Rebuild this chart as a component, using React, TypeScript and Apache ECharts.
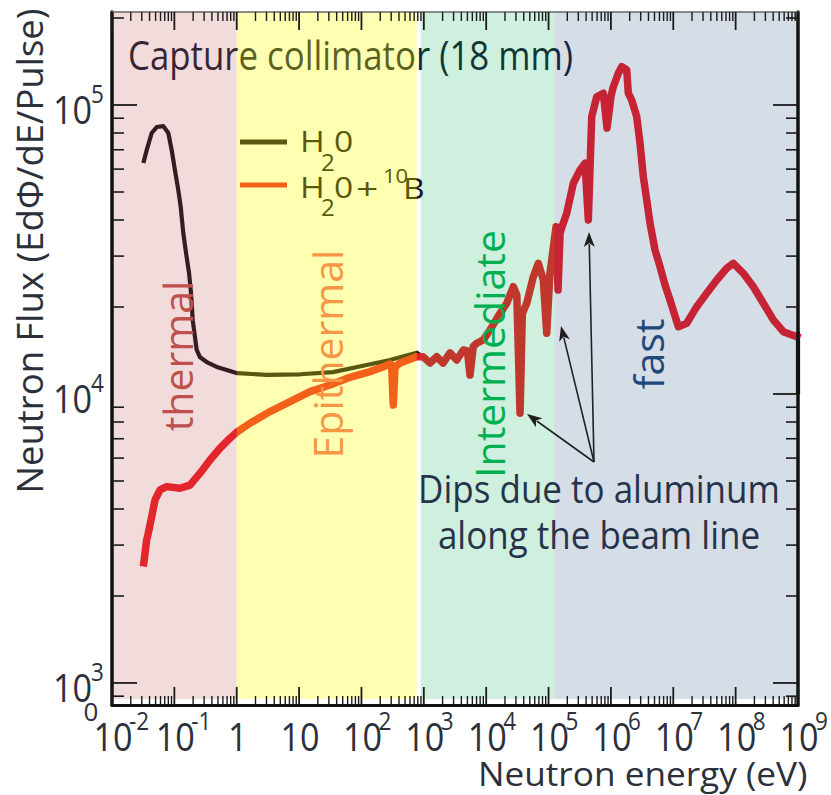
import React, { useEffect, useRef } from 'react';
import * as echarts from 'echarts';

// ---- axis ranges ----
const X_MIN = 0.01;
const X_MAX = 1e9;
const Y_MIN = 839;
const Y_MAX = 209800;
const BAND_FLOOR = 880;

// ---- energy regions ----
const regionNames = ['thermal', 'Epithermal', 'Intermediate', 'fast'];
const regionStart = [0.01, 1, 890, 1.25e5];
const regionEnd = [1, 770, 1.25e5, 1e9];
const regionShade = ['rgba(192,80,77,0.2)', 'rgba(255,255,0,0.3)', 'rgba(0,176,80,0.19)', 'rgba(31,73,125,0.19)'];
const regionTextColor = ['#C0504D', '#F79646', '#00B050', '#1F497D'];

// ---- series: H2O + 10B, low energy part ----
const boronLowEnergy = [0.0318, 0.036, 0.0382, 0.0433, 0.049, 0.0589, 0.0754, 0.123, 0.178, 0.258, 0.373, 0.539, 0.78, 1.02, 1.63, 3.42, 7.15, 15.0, 31.3, 65.5, 137, 224, 287, 305, 324, 345, 415, 769];
const boronLowFlux = [2530, 3130, 3300, 3760, 4300, 4660, 4780, 4720, 4840, 5320, 5910, 6490, 7030, 7400, 7920, 8690, 9410, 10190, 10740, 11420, 11950, 12430, 12700, 12600, 9160, 12400, 12800, 13460];

// ---- series: H2O, low energy part ----
const waterLowEnergy = [0.0318, 0.036, 0.0433, 0.0521, 0.0665, 0.08, 0.0906, 0.102, 0.1156, 0.1264, 0.139, 0.1537, 0.172, 0.185, 0.197, 0.228, 0.258, 0.33, 0.478, 0.69, 1.02, 3.03, 10.4, 35, 121, 287, 415, 769];
const waterLowFlux = [63000, 69800, 80000, 83900, 84500, 80000, 69800, 59600, 50800, 44400, 36100, 30800, 26200, 22300, 18000, 14200, 13400, 12900, 12400, 12100, 11800, 11650, 11700, 11900, 12600, 13100, 13400, 13900];

// ---- both series coincide above ~1 keV ----
const highEnergy = [971, 1258, 1610, 2032, 2630, 3370, 4298, 5000, 5508, 6200, 7053, 9000, 11530, 16670, 21350, 27240, 31000, 34890, 38000, 44680, 57020, 68570, 82480, 93500, 105000, 112400, 131800, 141900, 153000, 164500, 195600, 249700, 319800, 384600, 434500, 492400, 592300, 755400, 866700, 1.004e6, 1.093e6, 1.315e6, 1.491e6, 1.793e6, 1.901e6, 2.157e6, 2.594e6, 2.93e6, 3.309e6, 3.752e6, 4.238e6, 5.097e6, 6.132e6, 7.376e6, 8.87e6, 1.205e7, 1.644e7, 2.378e7, 3.44e7, 4.975e7, 7.2e7, 9.19e7, 1.329e8, 1.922e8, 2.781e8, 4.023e8, 5.82e8, 9.54e8, 1e9];
const highFlux = [13460, 12800, 13460, 12800, 13870, 13110, 14200, 14100, 11630, 14600, 14980, 15380, 16660, 19020, 20600, 23510, 22000, 8580, 19000, 20600, 25460, 28330, 24800, 16220, 26000, 29090, 37920, 22900, 36000, 37920, 42200, 53590, 59600, 62860, 40000, 91100, 106800, 109800, 83250, 107400, 115700, 128700, 135700, 132200, 109800, 104000, 91100, 73720, 56470, 46920, 38970, 31500, 27570, 23840, 21150, 17100, 17570, 20050, 22330, 24800, 27220, 28330, 26160, 23510, 20600, 18040, 16430, 15790, 16250];
const waterTailEnergy = [1e9];
const waterTailFlux = [10000];

// ---- ticks and tick labels ----
const xTickValues = [1e-2, 1e-1, 1, 10, 1e2, 1e3, 1e4, 1e5, 1e6, 1e7, 1e8, 1e9];
const xTickBases = ['10', '10', '1', '10', '10', '10', '10', '10', '10', '10', '10', '10'];
const xTickExps = ['-2', '-1', '', '', '2', '3', '4', '5', '6', '7', '8', '9'];
const yTickValues = [1e3, 1e4, 1e5];
const yTickBases = ['10', '10', '10'];
const yTickExps = ['3', '4', '5'];
const yMajorLeft = [1e3, 1e5];
const yMajorRight = [1e3, 1e4, 1e5];
const minorMultipliers = [2, 3, 4, 5, 6, 7, 8, 9];

const xMinorTicks: number[] = [];
for (let e = -2; e <= 8; e++) minorMultipliers.forEach((m) => xMinorTicks.push(m * Math.pow(10, e)));
const yMinorTicks: number[] = [];
for (let e = 2; e <= 5; e++) minorMultipliers.forEach((m) => {
  const v = m * Math.pow(10, e);
  if (v > Y_MIN && v < Y_MAX) yMinorTicks.push(v);
});

const FONT = '"Open Sans", "Noto Sans", sans-serif';
const LABEL_COLOR = '#2b303b';

function tickSeries(values: number[], axis: 'x' | 'y', len: number, sides: 'both' | 'left' | 'right', width: number) {
  return {
    type: 'custom',
    coordinateSystem: 'cartesian2d',
    silent: true,
    clip: false,
    z: 12,
    data: values.map((v) => (axis === 'x' ? [v, Y_MIN] : [X_MIN, v])),
    renderItem: (params: any, api: any) => {
      const cs = params.coordSys;
      const p = api.coord([api.value(0), api.value(1)]);
      const st = { stroke: '#1a1a1a', lineWidth: width };
      const ch: any[] = [];
      if (axis === 'x') {
        const bottom = cs.y + cs.height;
        const top = cs.y;
        ch.push({ type: 'line', shape: { x1: p[0], y1: bottom, x2: p[0], y2: bottom - len }, style: st });
        ch.push({ type: 'line', shape: { x1: p[0], y1: top, x2: p[0], y2: top + len }, style: st });
      } else {
        const left = cs.x;
        const right = cs.x + cs.width;
        if (sides !== 'right') ch.push({ type: 'line', shape: { x1: left, y1: p[1], x2: left + len, y2: p[1] }, style: st });
        if (sides !== 'left') ch.push({ type: 'line', shape: { x1: right, y1: p[1], x2: right - len, y2: p[1] }, style: st });
      }
      return { type: 'group', children: ch };
    },
  };
}

function txt(text: string, x: number, y: number, size: number, fill: string, align: string, extra: any = {}) {
  return {
    type: 'text',
    x,
    y,
    ...extra,
    style: { text, font: `${size}px ${FONT}`, fill, textAlign: align, textVerticalAlign: 'middle' },
  };
}

function arrow(x0: number, y0: number, x1: number, y1: number) {
  const dx = x1 - x0;
  const dy = y1 - y0;
  const L = Math.sqrt(dx * dx + dy * dy);
  const ux = dx / L;
  const uy = dy / L;
  const nx = -uy;
  const ny = ux;
  const hl = 15;
  const hw = 5.5;
  const bx = x1 - ux * hl;
  const by = y1 - uy * hl;
  return [
    { type: 'line', z: 20, shape: { x1: x0, y1: y0, x2: bx + ux * 3, y2: by + uy * 3 }, style: { stroke: '#222', lineWidth: 1.6 } },
    { type: 'polygon', z: 20, shape: { points: [[x1, y1], [bx + nx * hw, by + ny * hw], [bx + ux * 4, by + uy * 4], [bx - nx * hw, by - ny * hw]] }, style: { fill: '#1e1e1e' } },
  ];
}

export default function App() {
  const ref = useRef<HTMLDivElement>(null);
  useEffect(() => {
    if (!ref.current) return;
    const chart = echarts.init(ref.current, undefined, { renderer: 'svg' });

    const boronData = [...boronLowEnergy.map((e, i) => [e, boronLowFlux[i]]), ...highEnergy.map((e, i) => [e, highFlux[i]])];
    const waterData = [
      ...waterLowEnergy.map((e, i) => [e, waterLowFlux[i]]),
      ...highEnergy.map((e, i) => [e, highFlux[i]]),
      ...waterTailEnergy.map((e, i) => [e, waterTailFlux[i]]),
    ];

    const axisCommon = { type: 'log', logBase: 10, z: 10, axisTick: { show: false }, axisLabel: { show: false }, splitLine: { show: false } };

    const regionLabelX = [177, 327, 489, 648];
    const regionLabelY = [356, 354, 354, 354];
    const LEG = '#111';

    const graphicElements: any[] = [
      // title (under the colored bands)
      txt('Capture collimator (18 mm)', 128, 55, 40, '#141c30', 'left', { z: 1, scaleX: 0.87 }),
      // legend (under bands)
      { type: 'line', z: 1, shape: { x1: 240, y1: 142, x2: 287, y2: 142 }, style: { stroke: '#141018', lineWidth: 5 } },
      txt('H', 300, 140, 30, LEG, 'left', { z: 1, scaleX: 1.12 }),
      txt('2', 321, 162, 23, LEG, 'left', { z: 1, scaleX: 1.05 }),
      txt('0', 334, 140, 30, LEG, 'left', { z: 1, scaleX: 1.12 }),
      { type: 'line', z: 1, shape: { x1: 240, y1: 185, x2: 287, y2: 185 }, style: { stroke: '#ed1c24', lineWidth: 5 } },
      txt('H', 300, 186, 30, LEG, 'left', { z: 1, scaleX: 1.12 }),
      txt('2', 321, 207, 23, LEG, 'left', { z: 1, scaleX: 1.05 }),
      txt('0', 334, 186, 30, LEG, 'left', { z: 1, scaleX: 1.12 }),
      txt('+', 356, 187, 30, LEG, 'left', { z: 1, scaleX: 1.3 }),
      txt('10', 383, 175, 20, LEG, 'left', { z: 1, scaleX: 1.1 }),
      txt('B', 403, 187, 30, LEG, 'left', { z: 1, scaleX: 1.12 }),
      // region names (on top)
      ...regionNames.map((n, i) => txt(n, regionLabelX[i], regionLabelY[i], 41, regionTextColor[i], 'center', { z: 20, rotation: Math.PI / 2 })),
      // annotation
      txt('Dips due to aluminum', 599, 488, 35, '#25344a', 'center', { z: 20, scaleY: 1.08 }),
      txt('along the beam line', 599, 534, 35, '#25344a', 'center', { z: 20, scaleY: 1.08 }),
      ...arrow(594, 462, 527, 414),
      ...arrow(594, 462, 561, 326),
      ...arrow(594, 462, 589, 232),
      // axis titles
      txt('Neutron Flux (EdΦ/dE/Pulse)', 29, 251, 36.5, LABEL_COLOR, 'center', { z: 20, rotation: Math.PI / 2 }),
      txt('Neutron energy (eV)', 478, 774, 32, LABEL_COLOR, 'left', { z: 20, scaleX: 1.1 }),
      txt('0', 91, 711, 26, LABEL_COLOR, 'center', { z: 20 }),
    ];

    const option: any = {
      animation: false,
      grid: { left: 112, right: 33, top: 12, bottom: 90, containLabel: false },
      xAxis: [
        { ...axisCommon, min: X_MIN, max: X_MAX, position: 'bottom', axisLine: { show: true, onZero: false, lineStyle: { color: '#111', width: 3 } } },
        { ...axisCommon, min: X_MIN, max: X_MAX, position: 'top', axisLine: { show: true, onZero: false, lineStyle: { color: '#666', width: 1.5 } } },
      ],
      yAxis: [
        { ...axisCommon, min: Y_MIN, max: Y_MAX, position: 'left', axisLine: { show: true, onZero: false, lineStyle: { color: '#111', width: 3.5 } } },
        { ...axisCommon, min: Y_MIN, max: Y_MAX, position: 'right', axisLine: { show: true, onZero: false, lineStyle: { color: '#111', width: 3.5 } } },
      ],
      series: [
        {
          type: 'line', name: 'H2O', data: waterData, showSymbol: false, symbol: 'none', silent: true, z: 2,
          lineStyle: { color: '#141018', width: 4.2, join: 'round' },
        },
        {
          type: 'line', name: 'H2O+10B', data: boronData, showSymbol: false, symbol: 'none', silent: true, z: 2,
          lineStyle: { color: '#ed1c24', width: 7.5, join: 'round' },
        },
        {
          type: 'custom', coordinateSystem: 'cartesian2d', silent: true, clip: false, z: 5,
          encode: { x: [0, 1] },
          data: regionStart.map((s, i) => [s, regionEnd[i]]),
          renderItem: (params: any, api: any) => {
            const p0 = api.coord([api.value(0), Y_MAX]);
            const p1 = api.coord([api.value(1), BAND_FLOOR]);
            return {
              type: 'rect',
              shape: { x: p0[0], y: p0[1], width: p1[0] - p0[0], height: p1[1] - p0[1] },
              style: { fill: regionShade[params.dataIndex] },
            };
          },
        },
        tickSeries(xTickValues, 'x', 18, 'both', 1.8),
        tickSeries(xMinorTicks, 'x', 9, 'both', 1.4),
        tickSeries(yMajorLeft, 'y', 25, 'left', 1.8),
        tickSeries(yMajorRight, 'y', 25, 'right', 1.8),
        tickSeries(yMinorTicks, 'y', 12, 'both', 1.6),
        {
          type: 'custom', coordinateSystem: 'cartesian2d', silent: true, clip: false, z: 12,
          data: xTickValues.map((v) => [v, Y_MIN]),
          renderItem: (params: any, api: any) => {
            const i = params.dataIndex;
            const cs = params.coordSys;
            const px = api.coord([api.value(0), api.value(1)])[0];
            const y0 = cs.y + cs.height;
            const ch: any[] = [txt(xTickBases[i], px + 1, y0 + 31, 38, LABEL_COLOR, 'center', { scaleX: 0.9 })];
            if (xTickExps[i]) ch.push(txt(xTickExps[i], px + 17, y0 + 16, 25, LABEL_COLOR, 'left', { scaleX: 0.9 }));
            return { type: 'group', children: ch };
          },
        },
        {
          type: 'custom', coordinateSystem: 'cartesian2d', silent: true, clip: false, z: 12,
          data: yTickValues.map((v) => [X_MIN, v]),
          renderItem: (params: any, api: any) => {
            const i = params.dataIndex;
            const cs = params.coordSys;
            const py = api.coord([api.value(0), api.value(1)])[1];
            const x0 = cs.x;
            return {
              type: 'group',
              children: [
                txt(yTickBases[i], x0 - 20, py + 4, 38, LABEL_COLOR, 'right', { scaleX: 0.9 }),
                txt(yTickExps[i], x0 - 21, py - 11, 25, LABEL_COLOR, 'left', { scaleX: 0.9 }),
              ],
            };
          },
        },
      ],
      graphic: { elements: graphicElements },
    };
    chart.setOption(option);
    return () => chart.dispose();
  }, []);

  return <div ref={ref} style={{ position: 'absolute', left: 0, top: 0, width: 831, height: 795, background: '#fff' }} />;
}
